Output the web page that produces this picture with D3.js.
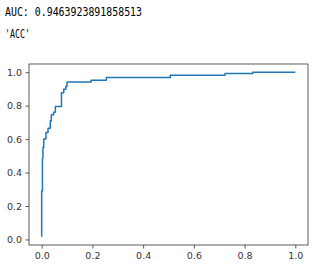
<!DOCTYPE html>
<html>
<head>
<meta charset="utf-8">
<script src="https://cdn.jsdelivr.net/npm/d3@7"></script>
<style>
	body { margin: 0; background: #fff; }
	svg { display: block; }
</style>
</head>
<body>
<svg id="roc" width="320" height="267"></svg>
<script>
(function(){

	// roc curve points (false positive rate / true positive rate)
	var fpr = [0, 0, 0.003, 0.003, 0.005, 0.005, 0.008, 0.008, 0.017, 0.017, 0.025, 0.025,
		0.034, 0.034, 0.038, 0.038, 0.047, 0.047, 0.054, 0.054, 0.078, 0.078, 0.087, 0.087,
		0.095, 0.095, 0.1, 0.1, 0.195, 0.195, 0.255, 0.255, 0.507, 0.507, 0.723, 0.723,
		0.832, 0.832, 1.0];
	var tpr = [0.016, 0.29, 0.29, 0.485, 0.485, 0.55, 0.55, 0.6, 0.6, 0.64, 0.64, 0.665,
		0.665, 0.71, 0.71, 0.745, 0.745, 0.76, 0.76, 0.795, 0.795, 0.878, 0.878, 0.898,
		0.898, 0.914, 0.914, 0.942, 0.942, 0.952, 0.952, 0.968, 0.968, 0.982, 0.982, 0.992,
		0.992, 1.0, 1.0];
	var xTicks = [0.0, 0.2, 0.4, 0.6, 0.8, 1.0];
	var yTicks = [0.0, 0.2, 0.4, 0.6, 0.8, 1.0];
	var printed = ["AUC: 0.9463923891858513", "'ACC'"];

	var margin = {top: 64, right: 12, bottom: 22, left: 29};
	var svg = d3.select("#roc");
	var width = +svg.attr("width") - margin.left - margin.right;
	var height = +svg.attr("height") - margin.top - margin.bottom;

	// notebook output lines above the figure
	svg.append("text")
		.text(printed[0])
		.attr("x", 5)
		.attr("y", 16)
		.attr("textLength", 137)
		.attr("lengthAdjust", "spacingAndGlyphs")
		.style("font-family", "DejaVu Sans Mono, monospace")
		.style("font-size", "12px")
		.attr("fill", "#000");

	svg.append("text")
		.text(printed[1])
		.attr("x", 5)
		.attr("y", 38)
		.attr("textLength", 25)
		.attr("lengthAdjust", "spacingAndGlyphs")
		.style("font-family", "DejaVu Sans Mono, monospace")
		.style("font-size", "12px")
		.attr("fill", "#000");

	var data = fpr.map(function(d, i){ return {x: d, y: tpr[i]}; });

	// matplotlib style 5% padding on the data range
	var pad = function(ext){
		var r = ext[1] - ext[0];
		return [ext[0] - r * 0.05, ext[1] + r * 0.05];
	};

	var x = d3.scaleLinear()
		.domain(pad(d3.extent(fpr)))
		.range([0, width]);
	var y = d3.scaleLinear()
		.domain(pad(d3.extent(tpr)))
		.range([height, 0]);

	var g = svg.append("g")
		.attr("transform", "translate(" + margin.left + "," + margin.top + ")");

	var line = d3.line()
		.x(function(d){ return x(d.x); })
		.y(function(d){ return y(d.y); });

	g.append("path")
		.datum(data)
		.attr("d", line)
		.attr("fill", "none")
		.attr("stroke", "#1f77b4")
		.attr("stroke-width", 1.5)
		.attr("stroke-linejoin", "round");

	var xAxis = g.append("g")
		.attr("transform", "translate(0," + height + ")")
		.call(d3.axisBottom(x).tickValues(xTicks).tickFormat(d3.format(".1f")).tickSizeOuter(0).tickSize(3.5).tickPadding(3.5));
	var yAxis = g.append("g")
		.call(d3.axisLeft(y).tickValues(yTicks).tickFormat(d3.format(".1f")).tickSizeOuter(0).tickSize(3.5).tickPadding(3.5));

	[xAxis, yAxis].forEach(function(a){
		a.select(".domain").remove();
		a.selectAll("line").attr("stroke", "#333").attr("stroke-width", 0.8);
		a.selectAll("text")
			.attr("fill", "#333")
			.style("font-family", "DejaVu Sans, sans-serif")
			.style("font-size", "9.5px");
	});

	// frame
	g.append("rect")
		.attr("width", width)
		.attr("height", height)
		.attr("fill", "none")
		.attr("stroke", "#333")
		.attr("stroke-width", 0.8);

})();
</script>
</body>
</html>
